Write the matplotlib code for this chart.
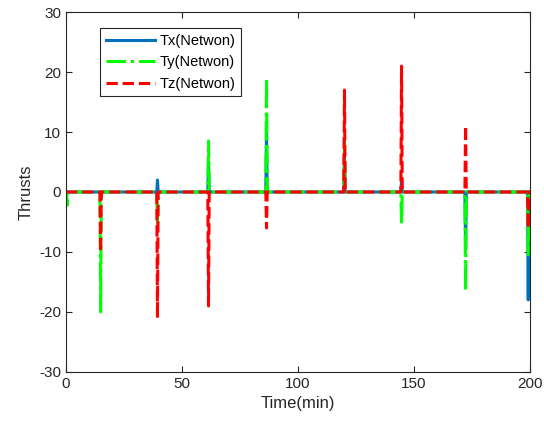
import numpy as np
import matplotlib; matplotlib.use("Agg"); import matplotlib.pyplot as plt

# spike events: time (min) and peak thrust (N)
tx_t = [39.2, 61.2, 86.2, 119.8, 144.4, 172.0, 199.0]
tx_a = [2.0, 5.0, 10.0, 6.0, 2.0, -9.5, -18.0]
ty_t = [0.3, 14.7, 39.2, 61.2, 86.2, 119.8, 144.4, 172.0, 199.0]
ty_a = [-2.2, -20.0, -5.5, 8.5, 19.0, 8.5, -5.5, -16.5, -10.5]
tz_t = [14.7, 39.2, 61.2, 86.2, 119.8, 144.4, 172.0, 199.0]
tz_a = [-10.0, -21.0, -19.0, -6.0, 17.0, 21.0, 11.0, -6.0]
T_END = 200
W = 0.6  # pulse width (min)

def spikes(ts, amps):
    x, y = [0.0], [0.0]
    for t, a in zip(ts, amps):
        x += [t, t + W / 2, t + W]; y += [0.0, a, 0.0]
    x.append(T_END); y.append(0.0)
    return np.array(x), np.array(y)

plt.rcParams["font.family"] = ["Liberation Sans", "DejaVu Sans"]
plt.rcParams["axes.unicode_minus"] = False
fig = plt.figure(figsize=(5.44, 4.30), dpi=100)
ax = fig.add_axes([0.121, 0.135, 0.853, 0.837])

x, y = spikes(tx_t, tx_a)
ax.plot(x, y, color="#0072BD", lw=2.2, ls="-", label="Tx(Netwon)")
x, y = spikes(ty_t, ty_a)
ax.plot(x, y, color="#00FF00", lw=2.2, ls="-.", label="Ty(Netwon)")
x, y = spikes(tz_t, tz_a)
ax.plot(x, y, color="#FF0000", lw=2.2, ls="--", label="Tz(Netwon)")

ax.set_xlim(0, 200); ax.set_ylim(-30, 30)
ax.set_xticks(range(0, 201, 50)); ax.set_yticks(range(-30, 31, 10))
ax.tick_params(direction="in", top=True, right=True, labelsize=11, colors="#262626", length=4)
for s in ax.spines.values():
    s.set_color("#262626"); s.set_linewidth(0.8)
ax.set_xlabel("Time(min)", fontsize=12, color="#262626")
ax.set_ylabel("Thrusts", fontsize=12, color="#262626")
leg = ax.legend(loc="upper left", bbox_to_anchor=(0.073, 0.955), borderaxespad=0, fontsize=10.5,
                handlelength=3.4, fancybox=False, framealpha=1, edgecolor="#262626",
                borderpad=0.4, labelspacing=0.5, handletextpad=0.3)
leg.get_frame().set_linewidth(0.8)
fig.savefig("out.png", dpi=100)
